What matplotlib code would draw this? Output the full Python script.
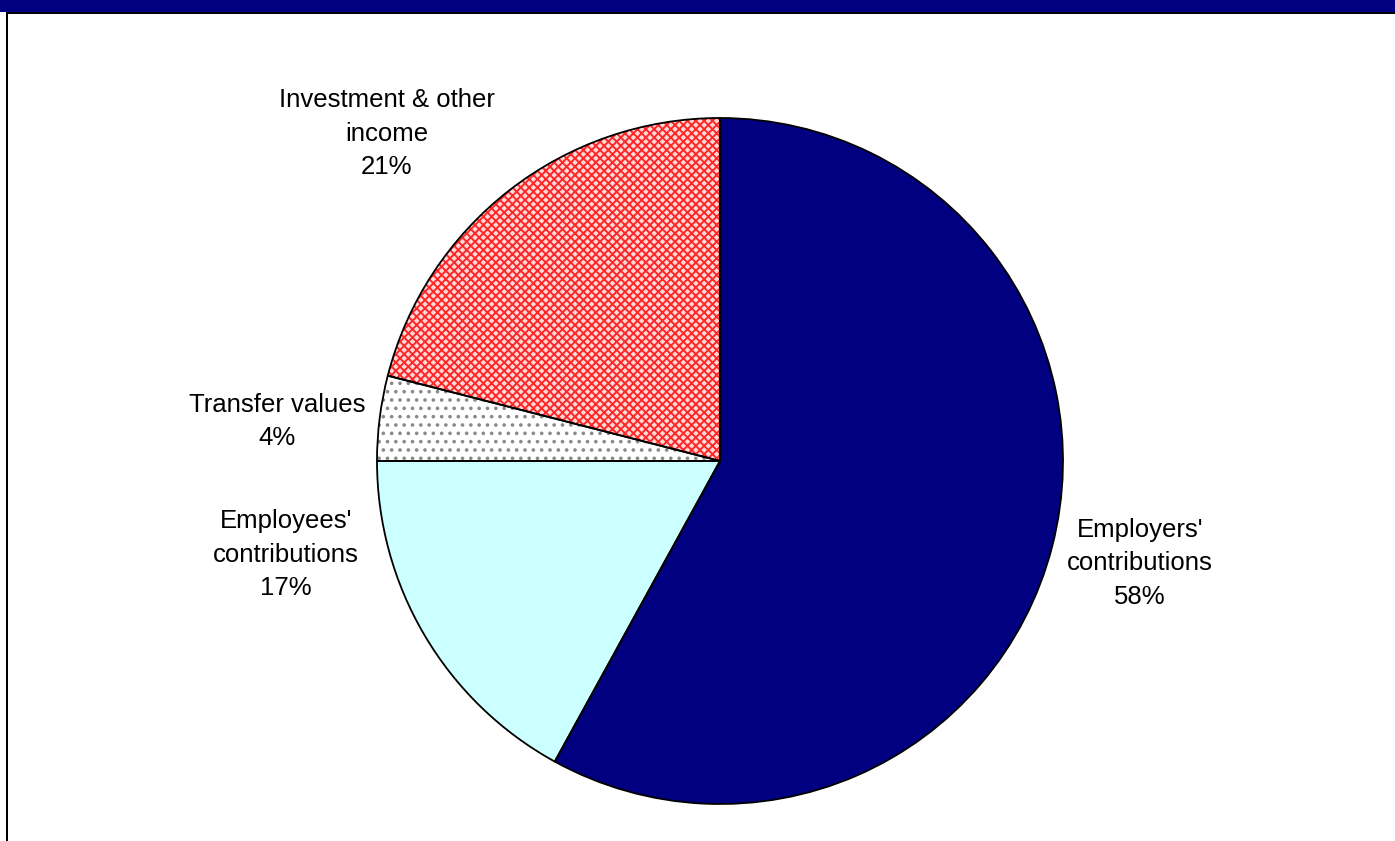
'''
Sources of fund income, pie chart.
'''

import matplotlib as mpl
mpl.use('Agg')
import matplotlib.pyplot as plt
from matplotlib.patches import Rectangle

mpl.rcParams['font.family']     = ['Liberation Sans', 'DejaVu Sans']
mpl.rcParams['font.size']       = 18.5
mpl.rcParams['hatch.linewidth'] = 1.4

# ---------------------------------------------------------------------------- #

categories = ["Employers'\ncontributions", "Employees'\ncontributions",
              'Transfer values', 'Investment & other\nincome']
shares = [58, 17, 4, 21]

fills   = ['#000080', '#CCFFFF', 'white', '#FFD8D8']
hatches = [None, None, '..', 'xxxx']
hatch_colors = ['#000080', '#CCFFFF', '#8A8A8A', '#FF2828']

# label anchors in pixels from the top-left corner (last-line baseline)
label_pos = [(1140, 604), (286, 595), (277, 445), (387, 174)]

# ---------------------------------------------------------------------------- #

W, H = 1395, 841
fig = plt.figure(figsize=(W/100, H/100), dpi=100)
ax = fig.add_axes([0, 0, 1, 1])
ax.axis('off')

centre = (720, H - 461)
radius = 343

# filled / hatched wedges, no outline
wedges, _ = ax.pie(shares, startangle=90, counterclock=False,
                   center=centre, radius=radius, colors=fills,
                   wedgeprops=dict(linewidth=0))
for w, h, c in zip(wedges, hatches, hatch_colors):
    w.set_edgecolor(c)
    if h:
        w.set_hatch(h)

# black outlines on top
ax.pie(shares, startangle=90, counterclock=False,
       center=centre, radius=radius,
       wedgeprops=dict(facecolor='none', edgecolor='black', linewidth=1.3))

ax.set_xlim(0, W)
ax.set_ylim(0, H)
ax.set_aspect('auto')

for name, val, (x, y) in zip(categories, shares, label_pos):
    ax.text(x, H - y, '%s\n%d%%' % (name, val), ha='center', va='baseline',
            multialignment='center', linespacing=1.5, color='black')

# header band and frame
fig.add_artist(Rectangle((0, 1 - 12/H), 1, 12/H, transform=fig.transFigure,
                         facecolor='#000080', edgecolor='none'))
fig.add_artist(Rectangle((6/W, 1 - 14/H), 1, 2/H, transform=fig.transFigure,
                         facecolor='black', edgecolor='none'))
fig.add_artist(Rectangle((6/W, 0), 2/W, 1 - 12/H, transform=fig.transFigure,
                         facecolor='black', edgecolor='none'))

fig.savefig('out.png', dpi=100)
